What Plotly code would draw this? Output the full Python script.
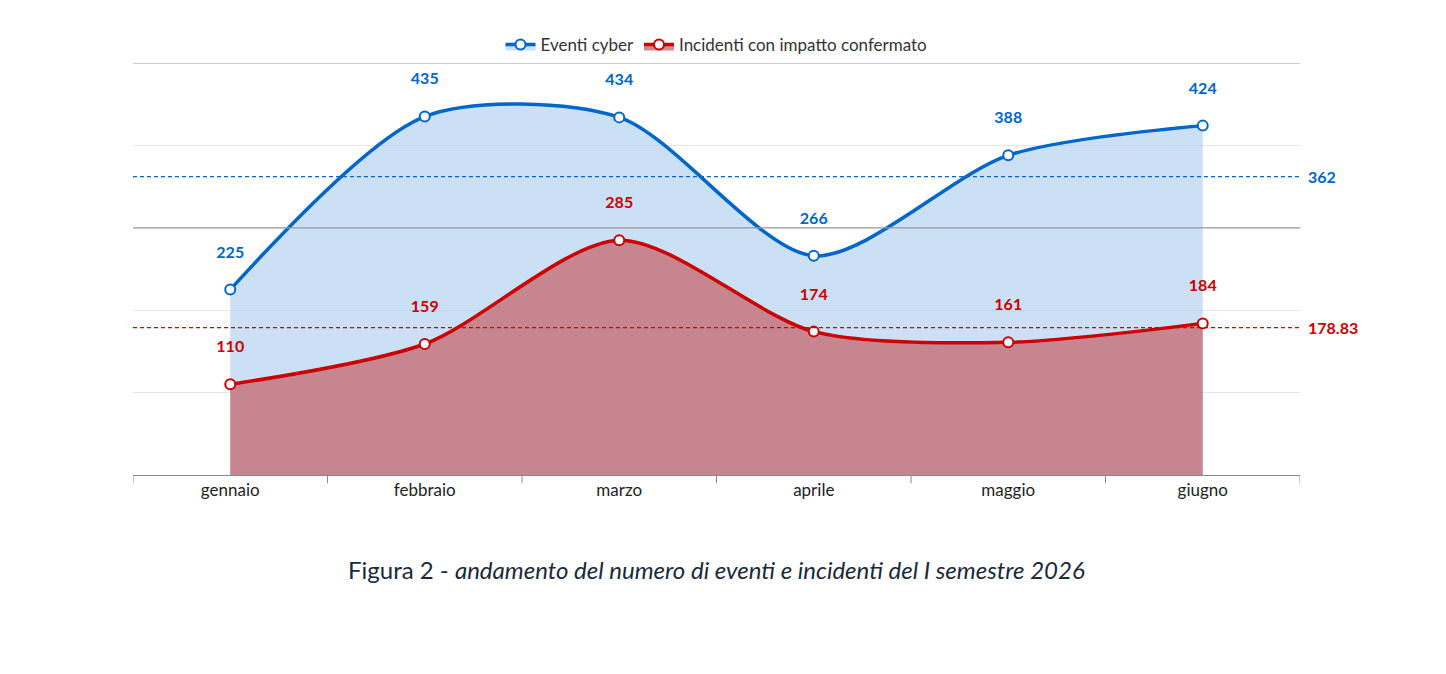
import plotly.graph_objects as go

mesi = ["gennaio", "febbraio", "marzo", "aprile", "maggio", "giugno"]
eventi = [225, 435, 434, 266, 388, 424]
incidenti = [110, 159, 285, 174, 161, 184]
media_eventi = 362
media_incidenti = 178.83

blu = "#0066cc"
rosso = "#cc0000"
x = list(range(len(mesi)))

fig = go.Figure()
fig.add_trace(go.Scatter(
    x=x, y=eventi, name="Eventi cyber", mode="lines+markers+text",
    line=dict(color=blu, width=3.5, shape="spline", smoothing=0.8),
    fill="tozeroy", fillcolor="rgba(160,196,236,0.55)",
    marker=dict(size=10, color="white", line=dict(color=blu, width=2)),
    text=["<b>%d</b><br> " % v for v in eventi], textposition="top center",
    textfont=dict(color=blu, size=16, family="Lato"),
))
fig.add_trace(go.Scatter(
    x=x, y=incidenti, name="Incidenti con impatto confermato", mode="lines+markers+text",
    line=dict(color=rosso, width=3.5, shape="spline", smoothing=0.8),
    fill="tozeroy", fillcolor="rgba(196,110,118,0.8)",
    marker=dict(size=10, color="white", line=dict(color=rosso, width=2)),
    text=["<b>%d</b><br> " % v for v in incidenti], textposition="top center",
    textfont=dict(color=rosso, size=16, family="Lato"),
))

# linee medie
for val, col, lab in [(media_eventi, blu, "362"), (media_incidenti, rosso, "178.83")]:
    fig.add_shape(type="line", xref="paper", x0=0, x1=1, y0=val, y1=val,
                  line=dict(color=col, width=1.2, dash="4px,3px"))
    fig.add_annotation(xref="paper", x=1.005, y=val, text="<b>" + lab + "</b>",
                       showarrow=False, xanchor="left", font=dict(color=col, size=16, family="Lato"))

# linee di griglia più scure
for val in [300, 500]:
    fig.add_shape(type="line", xref="paper", x0=0, x1=1, y0=val, y1=val,
                  line=dict(color="#999999", width=1.2), layer="above")

fig.add_annotation(xref="paper", yref="paper", x=0.5, y=-0.27, showarrow=False,
                   text="Figura 2 - <i>andamento del numero di eventi e incidenti del I semestre 2026</i>",
                   font=dict(size=24, color="#1a2a3a", family="Lato"))

fig.update_layout(
    width=1446, height=674,
    margin=dict(l=125, r=154, t=55, b=207),
    paper_bgcolor="white", plot_bgcolor="white",
    font=dict(family="Lato", size=17, color="#222"),
    showlegend=True,
    legend=dict(orientation="h", x=0.5, xanchor="center", y=1.0, yanchor="bottom",
                font=dict(size=17, color="#333")),
    xaxis=dict(range=[-0.5, 5.5], tickvals=x, ticktext=mesi, showgrid=False,
               showline=True, linecolor="#888", zeroline=False, ticks=""),
    yaxis=dict(range=[0, 500], dtick=100, showticklabels=False,
               gridcolor="#e6e6e6", zeroline=False),
)
# tacche tra le categorie
for b in [-0.5, 0.5, 1.5, 2.5, 3.5, 4.5, 5.5]:
    fig.add_shape(type="line", x0=b, x1=b, yref="paper", y0=0, y1=-0.02,
                  line=dict(color="#888", width=1))

fig.write_html("out.html")
